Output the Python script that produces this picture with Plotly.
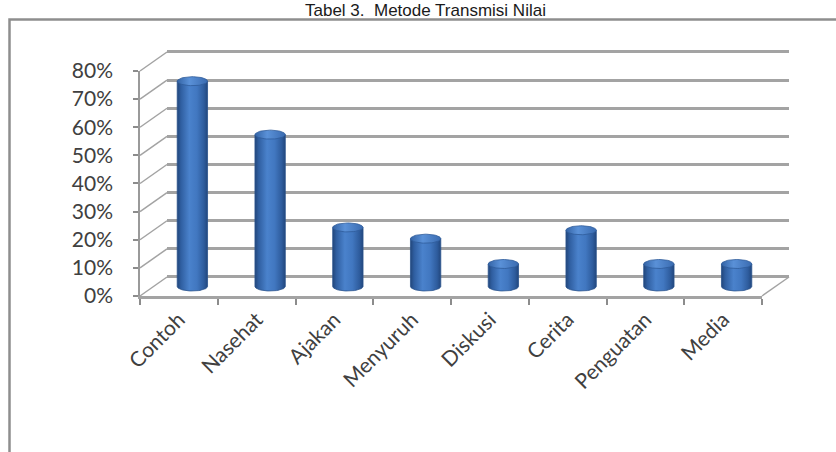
import numpy as np
import plotly.graph_objects as go

# ---- data -------------------------------------------------------------
categories = ["Contoh", "Nasehat", "Ajakan", "Menyuruh", "Diskusi",
              "Cerita", "Penguatan", "Media"]
percentages = [0.73, 0.54, 0.21, 0.17, 0.08, 0.20, 0.08, 0.08]
y_tick_values = [0.0, 0.1, 0.2, 0.3, 0.4, 0.5, 0.6, 0.7, 0.8]
title_text = "Tabel 3.\u00a0 Metode Transmisi Nilai"

# ---- page geometry (pixels) -------------------------------------------
W, H = 836, 452
FRONT_LEFT, FRONT_RIGHT = 140, 762     # front edge of the floor
FRONT_BASE = 296                       # 0% on the front axis
PX_PER_UNIT = 281.25                   # pixels per 100%
DEPTH_DX, DEPTH_DY = 27, -19           # offset of the back wall
FRAME_LEFT, FRAME_TOP = 9.5, 19.5

GRID = "#a3a3a3"
TEXT = "#404040"
FONT = "Lato"


def plane(depth, lo, hi):
    """Domains of a plane pushed `depth` (0 = front, 1 = back) into the box."""
    ox, oy = DEPTH_DX * depth, DEPTH_DY * depth
    xdom = [(FRONT_LEFT + ox) / W, (FRONT_RIGHT + ox) / W]
    base = FRONT_BASE + oy
    ydom = [1 - (base - lo * PX_PER_UNIT) / H, 1 - (base - hi * PX_PER_UNIT) / H]
    return xdom, ydom


def py(depth, v):
    """Paper y of value v on the plane at `depth`."""
    return 1 - (FRONT_BASE + DEPTH_DY * depth - v * PX_PER_UNIT) / H


def px(depth, xpix):
    return (xpix + DEPTH_DX * depth) / W


back_range = [-0.01, 0.81]
bar_range = [-0.06, 0.86]
front_range = [-0.001, 0.801]
back_x, back_y = plane(1.0, *back_range)
bar_x, bar_y = plane(0.5, *bar_range)
front_x, front_y = plane(0.0, *front_range)

fig = go.Figure()

# back wall: carries the horizontal gridlines
fig.add_trace(go.Scatter(x=[0], y=[0], xaxis="x", yaxis="y", mode="markers",
                         marker=dict(opacity=0), hoverinfo="skip", showlegend=False))

# cylinders, built from each value on the middle plane
RX = 0.195                                  # half width in category units
RY = 4.5 * (bar_range[1] - bar_range[0]) / ((bar_y[1] - bar_y[0]) * H)
theta = np.linspace(0, np.pi, 40)
body_scale = [[0, "#22467a"], [0.12, "#2f5ea0"], [0.4, "#4a82cc"],
              [0.65, "#4177c0"], [0.88, "#2e5c9d"], [1, "#22477d"]]
cap_scale = [[0, "#3464a6"], [0.4, "#5a91d8"], [1, "#3a6bb0"]]

for i, v in enumerate(percentages):
    bx = np.concatenate([i - RX * np.cos(theta), [i + RX, i - RX]])
    by = np.concatenate([-RY * np.sin(theta), [v, v]])
    fig.add_trace(go.Scatter(
        x=np.append(bx, bx[0]), y=np.append(by, by[0]), xaxis="x2", yaxis="y2",
        mode="lines", fill="toself", line=dict(width=0.8, color="#2a538d"),
        fillgradient=dict(type="horizontal", colorscale=body_scale),
        hoverinfo="skip", showlegend=False))
    t = np.linspace(0, 2 * np.pi, 60)
    fig.add_trace(go.Scatter(
        x=i + RX * np.cos(t), y=v + RY * np.sin(t), xaxis="x2", yaxis="y2",
        mode="lines", fill="toself", line=dict(width=0.8, color="#2f5c9a"),
        fillgradient=dict(type="horizontal", colorscale=cap_scale),
        hoverinfo="skip", showlegend=False))

# front axes: tick labels and floor edge
fig.add_trace(go.Scatter(x=categories, y=percentages, xaxis="x3", yaxis="y3",
                         mode="markers", marker=dict(opacity=0),
                         hoverinfo="skip", showlegend=False))

hidden = dict(showgrid=False, zeroline=False, showticklabels=False,
              ticks="", showline=False, automargin=False)

fig.update_layout(
    width=W, height=H,
    margin=dict(l=0, r=0, t=0, b=0, pad=0, autoexpand=False),
    paper_bgcolor="#ffffff",
    plot_bgcolor="rgba(0,0,0,0)",
    xaxis=dict(domain=back_x, range=[-0.5, 7.5], anchor="y", **hidden),
    yaxis=dict(domain=back_y, range=back_range, anchor="x", showgrid=True,
               gridcolor=GRID, gridwidth=2.6, tick0=0, dtick=0.1,
               zeroline=False, showticklabels=False, ticks="", showline=False,
               automargin=False),
    xaxis2=dict(domain=bar_x, range=[-0.5, 7.5], anchor="y2", **hidden),
    yaxis2=dict(domain=bar_y, range=bar_range, anchor="x2", **hidden),
    xaxis3=dict(domain=front_x, type="category", categoryarray=categories,
                categoryorder="array", range=[-0.5, 7.5], anchor="y3",
                showgrid=False, zeroline=False, showline=True,
                linecolor=GRID, linewidth=2.6, ticks="outside",
                tickson="boundaries", ticklen=6, tickwidth=1.5,
                tickcolor="#8c8c8c", tickangle=-45, automargin=False,
                tickfont=dict(family=FONT, size=21, color=TEXT)),
    yaxis3=dict(domain=front_y, range=front_range, anchor="x3",
                tickvals=y_tick_values, tickformat=".0%",
                showgrid=False, zeroline=False, showline=True,
                linecolor="#9a9a9a", linewidth=1.5, ticks="outside",
                ticklen=5, tickwidth=1.5, tickcolor="#8c8c8c",
                ticklabelstandoff=16, automargin=False,
                tickfont=dict(family=FONT, size=21, color=TEXT)),
)

shapes = []
# left wall: connect each front tick to its gridline on the back wall
for v in y_tick_values:
    shapes.append(dict(type="line", xref="paper", yref="paper", layer="below",
                       x0=px(0, FRONT_LEFT), y0=py(0, v),
                       x1=px(1, FRONT_LEFT), y1=py(1, v),
                       line=dict(color=GRID, width=1.5)))
# right edge of the floor
shapes.append(dict(type="line", xref="paper", yref="paper", layer="below",
                   x0=px(0, FRONT_RIGHT), y0=py(0, 0),
                   x1=px(1, FRONT_RIGHT), y1=py(1, 0),
                   line=dict(color=GRID, width=1.5)))
# chart frame
shapes.append(dict(type="rect", xref="paper", yref="paper", layer="below",
                   x0=FRAME_LEFT / W, x1=1.3, y0=-0.3, y1=1 - FRAME_TOP / H,
                   line=dict(color="#8e8e8e", width=2.5),
                   fillcolor="rgba(0,0,0,0)"))
fig.update_layout(shapes=shapes)

# title sits in the strip above the frame
fig.add_annotation(text=title_text, xref="paper", yref="paper",
                   x=425 / W, y=1, xanchor="center", yanchor="top",
                   showarrow=False, borderpad=0,
                   font=dict(family="Liberation Sans", size=17, color="#1a1a1a"))

fig.write_html("out.html")
